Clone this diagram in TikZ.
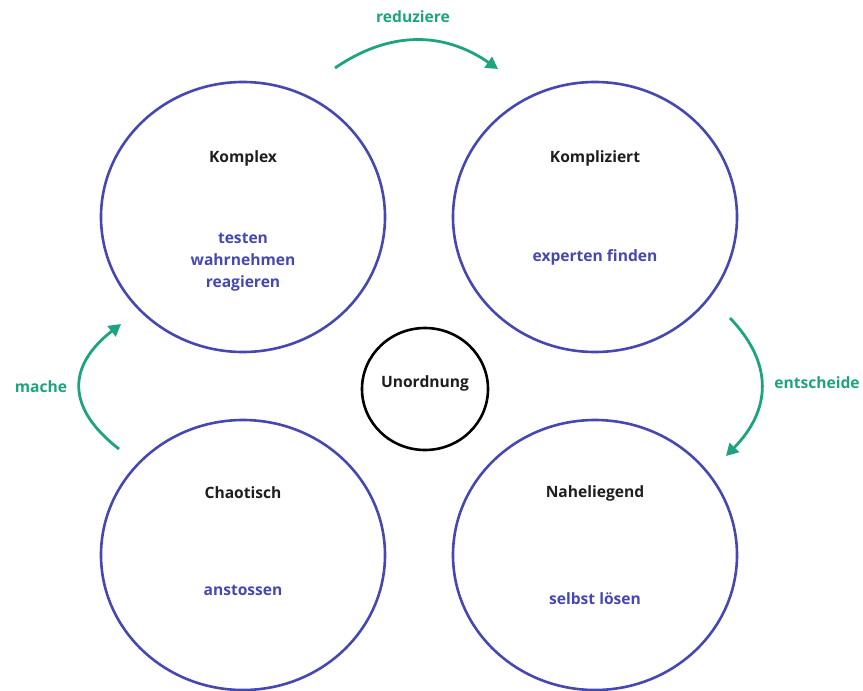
\documentclass[tikz,border=0pt]{standalone}
\usepackage{fontspec}
\setmainfont{Open Sans}
\usetikzlibrary{arrows.meta,shapes.geometric}
\definecolor{feldblau}{RGB}{70,72,178}
\definecolor{pfeilgruen}{RGB}{30,163,128}
\definecolor{titelgrau}{RGB}{30,30,30}

\begin{document}
\begin{tikzpicture}[x=1pt,y=-1pt]
\useasboundingbox (0,0) rectangle (863,691);
	\begin{scope}[every node/.style = {ellipse, draw=feldblau, line width=2.6pt,
		minimum width=284pt, minimum height=270pt, inner sep=0pt}]
		\node (komplex) at (243,217) {};
		\node (kompliziert) at (595,217) {};
		\node (chaotisch) at (243,555) {};
		\node (naheliegend) at (595,555) {};
	\end{scope}
	\node[ellipse, draw=black, line width=2.6pt, minimum width=126pt,
		minimum height=122pt, inner sep=0pt] (unordnung) at (425,389) {};
	\begin{scope}[every node/.style = {font=\bfseries\fontsize{15.6}{22}\selectfont,
		align=center}]
		% Titel
		\node[text=titelgrau] (t-komplex) at (243,158) {Komplex};
		\node[text=titelgrau] (t-kompliziert) at (595,158) {Kompliziert};
		\node[text=titelgrau] (t-chaotisch) at (243,493) {Chaotisch};
		\node[text=titelgrau] (t-naheliegend) at (595,493) {Naheliegend};
		\node[text=titelgrau] (t-unordnung) at (425,383) {Unordnung};
		% Handlungen
		\node[text=feldblau] (h-komplex) at (243,262) {testen\\wahrnehmen\\reagieren};
		\node[text=feldblau] (h-kompliziert) at (595,257) {experten finden};
		\node[text=feldblau] (h-chaotisch) at (243,590) {anstossen};
		\node[text=feldblau] (h-naheliegend) at (595,599) {selbst lösen};
		% Pfeile
		\node[text=pfeilgruen] (l-reduziere) at (413,17) {reduziere};
		\node[text=pfeilgruen] (l-mache) at (41,387) {mache};
		\node[text=pfeilgruen] (l-entscheide) at (817,383) {entscheide};
	\end{scope}
	\coordinate (red-a) at (335,68);
	\coordinate (red-b) at (498,69);
	\coordinate (mac-a) at (119,449);
	\coordinate (mac-b) at (121,324);
	\coordinate (ent-a) at (730,318);
	\coordinate (ent-b) at (726,456);
	\begin{scope}[>={Triangle[length=12pt,width=13pt]},
		every path/.style={draw=pfeilgruen, fill=none, line width=2.8pt}]
		\draw[->] (red-a) .. controls (389,31) and (443,31) .. (red-b);
		\draw[->] (mac-a) .. controls (66,408) and (67,366) .. (mac-b);
		\draw[->] (ent-a) .. controls (774,364) and (771,410) .. (ent-b);
	\end{scope}
\end{tikzpicture}
\end{document}
